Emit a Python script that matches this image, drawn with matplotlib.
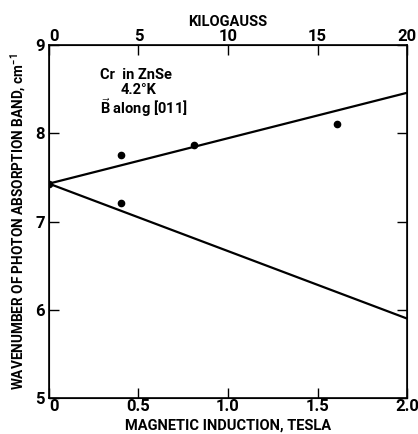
import matplotlib
matplotlib.use('Agg')
import matplotlib.pyplot as plt

plt.rcParams['font.family'] = ['Roboto', 'DejaVu Sans']
plt.rcParams['font.weight'] = 'bold'
plt.rcParams['axes.labelweight'] = 'bold'
plt.rcParams['mathtext.fontset'] = 'custom'
plt.rcParams['mathtext.bf'] = 'Roboto:bold'
plt.rcParams['mathtext.rm'] = 'Roboto:bold'

# measured points (tesla, cm^-1)
b_pts = [0.0, 0.40, 0.40, 0.81, 1.61]
wn_pts = [7.43, 7.75, 7.21, 7.87, 8.11]

# fitted lines
b_line = [0.0, 2.0]
wn_upper = [7.43, 8.46]
wn_lower = [7.43, 5.90]

xticks = [0, 0.5, 1.0, 1.5, 2.0]
xticklabels = ['0', '0.5', '1.0', '1.5', '2.0']
yticks = [5, 6, 7, 8, 9]
kg_ticks = [0, 5, 10, 15, 20]

fig = plt.figure(figsize=(4.18, 4.34), dpi=100)
ax = fig.add_axes([0.117, 0.083, 0.857, 0.813])

ax.plot(b_line, wn_upper, color='black', lw=1.6)
ax.plot(b_line, wn_lower, color='black', lw=1.6)
ax.plot(b_pts, wn_pts, 'o', color='black', ms=4.5)

ax.set_xlim(0, 2.0)
ax.set_ylim(5, 9)
ax.set_xticks(xticks)
ax.set_xticklabels(xticklabels)
ax.set_yticks(yticks)
ax.tick_params(direction='in', length=7, width=1, labelsize=12, pad=1,
               right=True)
ax.tick_params(axis='y', pad=3)
for s in ax.spines.values():
    s.set_linewidth(1.2)
ax.get_xticklabels()[0].set_horizontalalignment('left')
ax.get_yticklabels()[0].set_verticalalignment('center_baseline')

ax.set_xlabel('MAGNETIC INDUCTION, TESLA', fontsize=10.5, labelpad=3)
ax.set_ylabel('WAVENUMBER OF PHOTON ABSORPTION BAND, cm$^{-1}$',
              fontsize=9.8, labelpad=5)

ax2 = ax.twiny()
ax2.set_xlim(0, 20)
ax2.set_xticks(kg_ticks)
ax2.tick_params(direction='in', length=7, width=1, labelsize=12, pad=1)
ax2.get_xticklabels()[0].set_horizontalalignment('left')
ax2.set_xlabel('KILOGAUSS', fontsize=10.5, labelpad=2)

# annotation block
ax.text(0.286, 8.62, 'Cr  in ZnSe', fontsize=10.5, va='baseline')
ax.text(0.40, 8.45, '4.2°K', fontsize=10.5, va='baseline')
ax.text(0.286, 8.22, r'$\vec{\mathbf{B}}$ along [011]', fontsize=10.5,
        va='baseline')

fig.savefig('out.png', dpi=100)
